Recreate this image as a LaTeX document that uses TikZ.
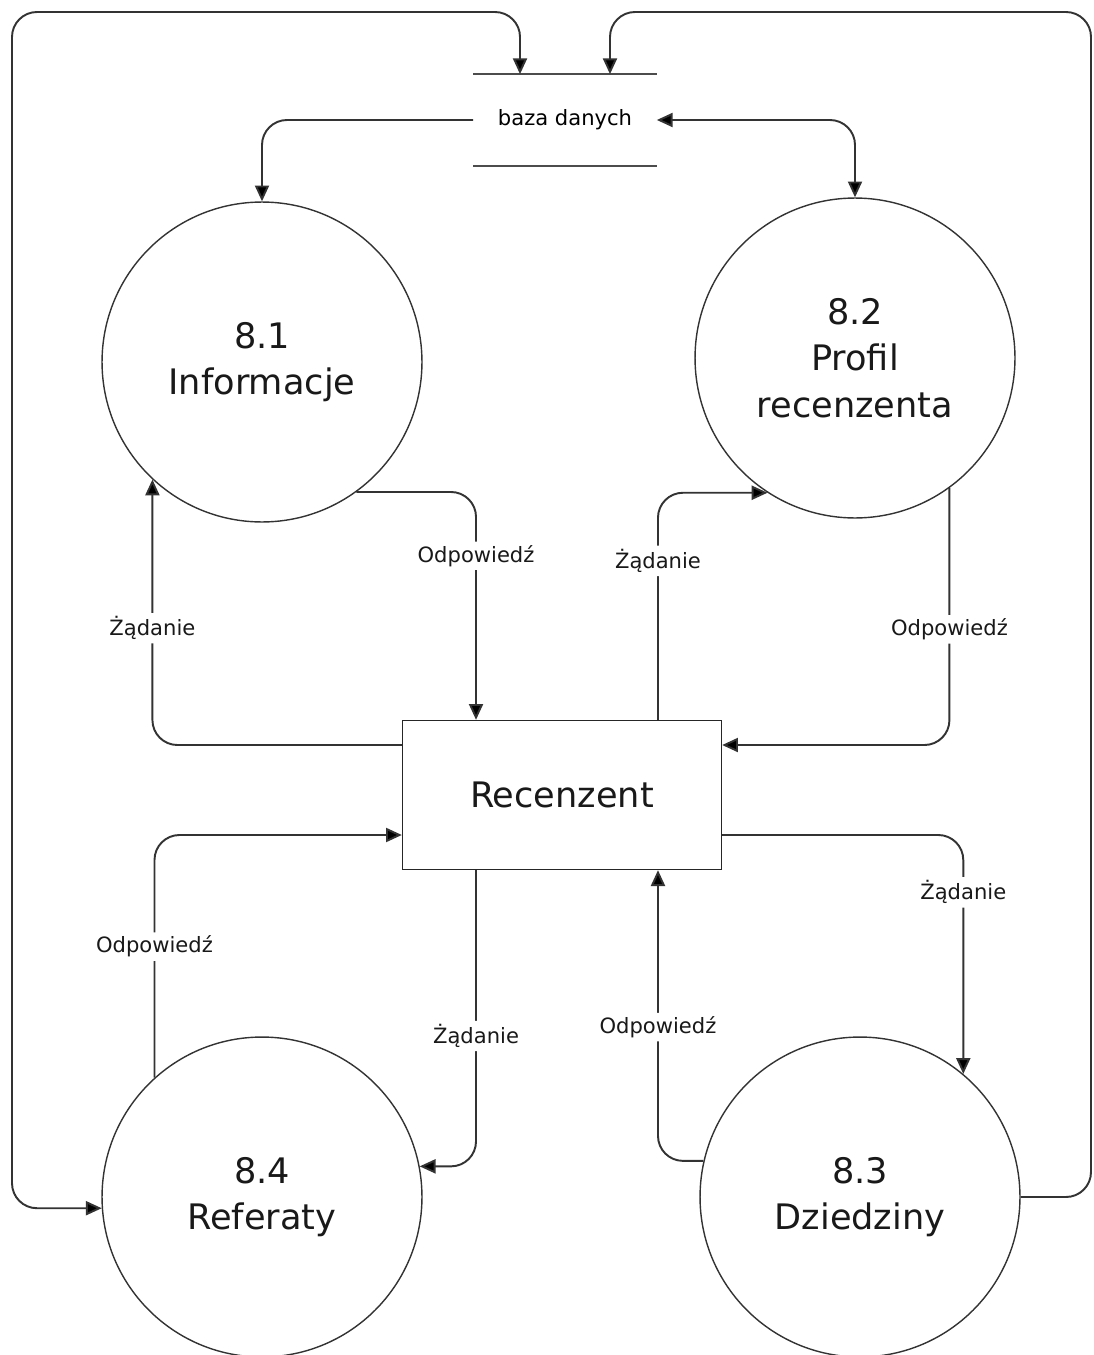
\documentclass[tikz,border=0pt]{standalone}
\usepackage{fontspec}
\setmainfont{DejaVu Sans}
\usetikzlibrary{arrows.meta}

\begin{document}
\begin{tikzpicture}[
  x=0.02cm, y=-0.02cm,
  tip/.tip={Triangle[length=9pt, width=8pt, fill=black]},
  proc/.style={draw=black!80, line width=0.8pt, circle, minimum size=6.4cm, inner sep=0pt, align=center, font=\fontsize{20}{26.5}\selectfont, text=black!90},
  ent/.style={draw=black!85, line width=0.8pt, minimum width=6.38cm, minimum height=2.98cm, font=\fontsize{20}{24}\selectfont, text=black!90},
  store/.style={minimum width=3.66cm, minimum height=1.82cm, inner sep=0pt, font=\fontsize{12}{14}\selectfont},
  flow/.style={draw=black!80, line width=1.1pt, rounded corners=0.5cm, -tip},
  lbl/.style={fill=white, inner sep=2pt, font=\fontsize{12}{14}\selectfont, text=black!90}
]
  \useasboundingbox (0,0) rectangle (1093,1355);

  \node[store] (db) at (565,120) {baza danych};
  \draw[black!70, line width=1.3pt] (db.north west) -- (db.north east);
  \draw[black!70, line width=1.3pt] (db.south west) -- (db.south east);

  \node[proc] (inf) at (262,362) {8.1\\Informacje};
  \node[proc] (prof) at (855,358) {8.2\\Profil\\recenzenta};
  \node[proc] (dzi) at (860,1197) {8.3\\Dziedziny};
  \node[proc] (ref) at (262,1197) {8.4\\Referaty};

  \node[ent] (rec) at (562,795) {Recenzent};

  % baza danych
  \draw[flow, tip-tip] (ref.184) -| (12,12) -| ([xshift=-0.9cm]db.north);
  \draw[flow] (dzi.east) -| (1091,12) -| ([xshift=0.9cm]db.north);
  \draw[flow] (db.west) -| (inf.north);
  \draw[flow, tip-tip] (db.east) -| (prof.north);

  % 8.1 Informacje
  \draw[flow] (inf.-54) -| node[lbl, pos=0.64] {Odpowiedź} ([xshift=-1.72cm]rec.north);
  \draw[flow] ([yshift=1cm]rec.west) -| node[lbl, pos=0.72] {Żądanie} (inf.227);

  % 8.2 Profil recenzenta
  \draw[flow] ([xshift=1.92cm]rec.north) |- node[lbl, pos=0.35] {Żądanie} (prof.237);
  \draw[flow] (prof.-54) |- node[lbl, pos=0.275] {Odpowiedź} ([yshift=1cm]rec.east);

  % 8.3 Dziedziny
  \draw[flow] ([yshift=-0.8cm]rec.east) -| node[lbl, pos=0.62] {Żądanie} (dzi.50);
  \draw[flow] (dzi.167) -| node[lbl, pos=0.73] {Odpowiedź} ([xshift=1.92cm]rec.south);

  % 8.4 Referaty
  \draw[flow] (ref.132) |- node[lbl, pos=0.27] {Odpowiedź} ([yshift=-0.8cm]rec.west);
  \draw[flow] ([xshift=-1.72cm]rec.south) |- node[lbl, pos=0.28] {Żądanie} (ref.11);
\end{tikzpicture}
\end{document}
